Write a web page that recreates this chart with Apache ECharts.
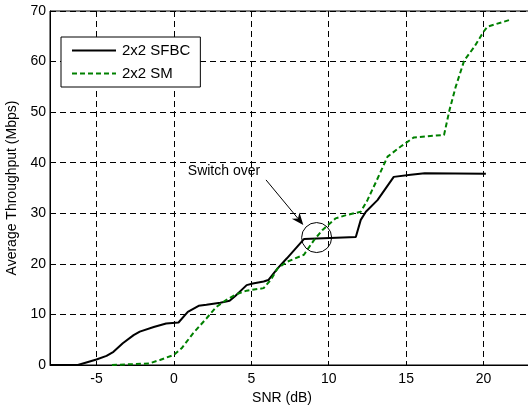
<!DOCTYPE html>
<html>
<head>
<meta charset="utf-8">
<script src="https://cdn.jsdelivr.net/npm/echarts@6/dist/echarts.min.js"></script>
<style>
html,body{margin:0;padding:0;background:#fff;}
#main{width:528px;height:407px;}
</style>
</head>
<body>
<div id="main"></div>
<script>
// ---- data ----
const xTicks = [-5, 0, 5, 10, 15, 20];
const yTicks = [0, 10, 20, 30, 40, 50, 60, 70];
const seriesNames = ['2x2 SFBC', '2x2 SM'];
const sfbc = [
  [-8,0],[-6.2,0],[-5,1.1],[-4.35,1.8],[-3.9,2.6],[-3.3,4.3],[-2.6,5.9],[-2.2,6.6],
  [-1.3,7.5],[-0.5,8.2],[0.3,8.4],[0.9,10.5],[1.6,11.7],[2.1,11.9],[3.0,12.3],
  [3.6,12.7],[3.95,13.6],[4.7,15.8],[5.1,16.1],[5.8,16.5],[6.1,16.8],[6.7,19.1],
  [7.3,21.1],[8.4,24.9],[11.75,25.3],[12.07,28.7],[12.4,30.3],[13.15,32.6],
  [14.2,37.2],[15.3,37.6],[16.2,37.9],[20.15,37.8]
];
const sm = [
  [-4.0,0],[-1.6,0.3],[-0.9,1.0],[0,2.0],[0.5,3.3],[1.25,6.3],[2.1,9.2],[2.75,11.5],
  [3.4,12.9],[4.05,14.0],[4.7,14.7],[5.8,15.2],[6.25,16.8],[6.7,19.1],[7.3,20.4],
  [8.4,21.8],[9.05,24.7],[9.6,26.7],[10.45,29.0],[11.2,29.7],[12.07,30.3],[12.5,32.6],
  [13.1,36.5],[13.8,41.2],[14.65,43.2],[15.5,45.0],[17.45,45.5],[17.8,50.4],[18.2,55.0],
  [18.75,60.2],[19.4,62.9],[20.0,65.9],[20.25,66.9],[21.65,68.2]
];
const xRange = [-8, 23];
const yRange = [0, 70];
const annoText = 'Switch over';
const annoTextAt = [0.9, 38.4];
const arrowFrom = [5.95, 36.6];
const arrowTo = [8.36, 27.7];
const circleAt = [9.22, 25.2];

const FONT = "'Liberation Sans', Arial, Helvetica, sans-serif";
const gridDash = { color: '#000', width: 1, type: [6, 4] };

const chart = echarts.init(document.getElementById('main'), null, { renderer: 'canvas' });
const option = {
  animation: false,
  backgroundColor: '#fff',
  textStyle: { fontFamily: FONT },
  grid: { left: 50, top: 11, width: 480, height: 354, containLabel: false, outerBoundsMode: 'none',
          show: true, borderColor: '#000', borderWidth: 1, backgroundColor: 'transparent' },
  legend: {
    orient: 'vertical', left: 61, top: 37,
    data: seriesNames,
    backgroundColor: '#fff', borderColor: '#000', borderWidth: 1, borderRadius: 0,
    padding: [6, 10, 6, 10],
    itemWidth: 44, itemHeight: 14, itemGap: 8,
    itemStyle: { opacity: 0 },
    textStyle: { fontFamily: FONT, fontSize: 15, color: '#000', padding: [0, 0, 0, 1] }
  },
  xAxis: {
    type: 'value', min: xRange[0], max: xRange[1],
    name: 'SNR (dB)', nameLocation: 'middle', nameGap: 25,
    nameTextStyle: { fontFamily: FONT, fontSize: 14, color: '#000', padding: [0, 16, 0, 0] },
    axisLine: { onZero: false, lineStyle: { color: '#000', width: 1 } },
    axisTick: { show: true, inside: true, length: 4, customValues: xTicks, lineStyle: { color: '#000' } },
    axisLabel: { customValues: xTicks, fontFamily: FONT, fontSize: 14, color: '#000', margin: 7 },
    splitLine: { show: true, lineStyle: gridDash }
  },
  yAxis: {
    type: 'value', min: yRange[0], max: yRange[1], interval: 10,
    name: 'Average Throughput (Mbps)', nameLocation: 'middle', nameGap: 31,
    nameTextStyle: { fontFamily: FONT, fontSize: 14, color: '#000' },
    axisLine: { show: true, onZero: false, lineStyle: { color: '#000', width: 1 } },
    axisTick: { show: true, inside: true, length: 4, lineStyle: { color: '#000' } },
    axisLabel: { fontFamily: FONT, fontSize: 14, color: '#000', margin: 4 },
    splitLine: { show: true, lineStyle: gridDash }
  },
  series: [
    { name: seriesNames[0], type: 'line', data: sfbc, symbol: 'none', showSymbol: false, z: 3,
      lineStyle: { color: '#000', width: 2 }, itemStyle: { color: '#000' } },
    { name: seriesNames[1], type: 'line', data: sm, symbol: 'none', showSymbol: false, z: 4,
      lineStyle: { color: '#008000', width: 2, type: [5, 3] }, itemStyle: { color: '#008000' } }
  ]
};
chart.setOption(option);

// annotation positioned through the chart's scales
const px = (d) => chart.convertToPixel({ gridIndex: 0 }, d);
const a0 = px(arrowFrom), a1 = px(arrowTo), c = px(circleAt), t = px(annoTextAt);
const dx = a1[0] - a0[0], dy = a1[1] - a0[1];
const L = Math.hypot(dx, dy), ux = dx / L, uy = dy / L, nx = -uy, ny = ux;
const headLen = 12, headW = 5;
const base = [a1[0] - ux * headLen, a1[1] - uy * headLen];
const notch = [a1[0] - ux * headLen * 0.7, a1[1] - uy * headLen * 0.7];
chart.setOption({
  graphic: [
    { type: 'text', x: t[0], y: t[1], z: 100,
      style: { text: annoText, fill: '#000', font: "14px " + FONT, textAlign: 'left', textVerticalAlign: 'middle' } },
    { type: 'line', z: 100, shape: { x1: a0[0], y1: a0[1], x2: notch[0], y2: notch[1] },
      style: { stroke: '#000', lineWidth: 1 } },
    { type: 'polygon', z: 100, shape: { points: [
        a1,
        [base[0] + nx * headW, base[1] + ny * headW],
        notch,
        [base[0] - nx * headW, base[1] - ny * headW]
      ] }, style: { fill: '#000' } },
    { type: 'circle', z: 100, shape: { cx: c[0], cy: c[1], r: 15 },
      style: { fill: 'none', stroke: '#000', lineWidth: 1 } }
  ]
});
</script>
</body>
</html>
